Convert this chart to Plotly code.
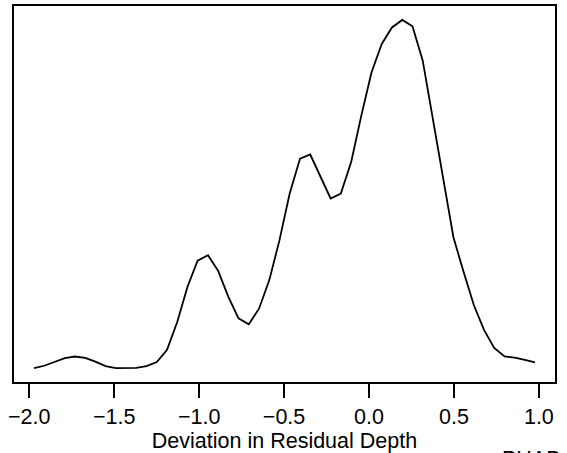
import plotly.graph_objects as go

# Grid of the density estimate (Deviation in Residual Depth)
deviation = [
    -1.972, -1.912, -1.852, -1.791, -1.731, -1.671, -1.611, -1.551, -1.490, -1.430,
    -1.370, -1.310, -1.249, -1.189, -1.129, -1.069, -1.009, -0.948, -0.888, -0.828,
    -0.768, -0.708, -0.647, -0.587, -0.527, -0.467, -0.406, -0.346, -0.286, -0.226,
    -0.166, -0.105, -0.045, 0.015, 0.075, 0.135, 0.196, 0.256, 0.316, 0.376,
    0.436, 0.497, 0.557, 0.617, 0.677, 0.737, 0.798, 0.858, 0.918, 0.977,
]
density = [
    0.046, 0.054, 0.067, 0.080, 0.086, 0.081, 0.068, 0.053, 0.046, 0.046,
    0.047, 0.053, 0.067, 0.109, 0.205, 0.326, 0.417, 0.436, 0.382, 0.292,
    0.218, 0.197, 0.252, 0.350, 0.488, 0.649, 0.770, 0.784, 0.709, 0.632,
    0.649, 0.758, 0.919, 1.068, 1.166, 1.223, 1.249, 1.227, 1.109, 0.902,
    0.705, 0.498, 0.378, 0.264, 0.178, 0.116, 0.086, 0.082, 0.074, 0.066,
]
tick_values = [-2.0, -1.5, -1.0, -0.5, 0.0, 0.5, 1.0]
x_title = "Deviation in Residual Depth"
footer = "PHAB ("

# R-style 4% padding
xmin, xmax = min(deviation), max(deviation)
ymin, ymax = min(density), max(density)
xpad = 0.04 * (xmax - xmin)
ypad = 0.04 * (ymax - ymin)

fig = go.Figure()
fig.add_trace(go.Scatter(
    x=deviation, y=density, mode="lines",
    line=dict(color="black", width=1.8),
    showlegend=False, hoverinfo="skip",
))

font_family = "Liberation Sans, Arial, sans-serif"
fs = 21.5
fig.update_layout(
    width=567, height=453,
    margin=dict(l=14, r=12, t=6, b=71),
    paper_bgcolor="white", plot_bgcolor="white",
    font=dict(family=font_family, size=fs, color="black"),
    xaxis=dict(
        range=[xmin - xpad, xmax + xpad],
        tickvals=tick_values, tickformat=".1f",
        ticks="outside", ticklen=14, tickwidth=1.5, tickcolor="black",
        showline=True, linecolor="black", linewidth=2, mirror=True,
        showgrid=False, zeroline=False,
        tickfont=dict(size=fs, family=font_family),
        title=dict(text=x_title, font=dict(size=fs, family=font_family), standoff=0),
        automargin=False,
    ),
    yaxis=dict(
        range=[ymin - ypad, ymax + ypad],
        showticklabels=False, ticks="",
        showline=True, linecolor="black", linewidth=2, mirror=True,
        showgrid=False, zeroline=False,
    ),
    annotations=[dict(
        text=footer, xref="paper", yref="paper",
        x=(500 - 14) / (567 - 26), y=-0.168,
        xanchor="left", yanchor="top", showarrow=False,
        font=dict(size=fs, family=font_family, color="black"),
    )],
)

fig.write_html("out.html", config={"displayModeBar": False},
               post_script="document.body.style.margin='0';")
